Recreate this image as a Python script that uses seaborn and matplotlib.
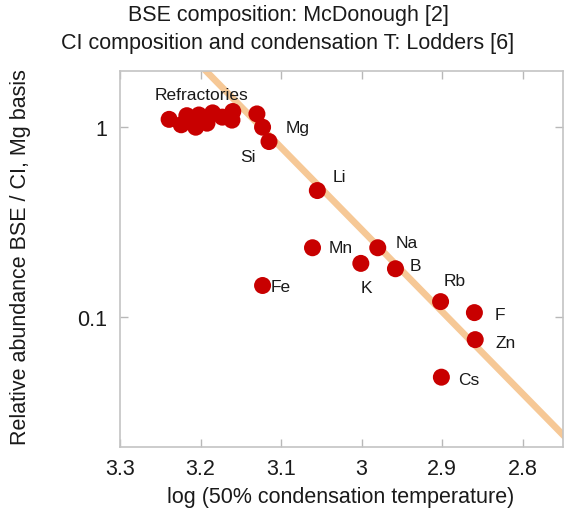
import numpy as np
import pandas as pd
import matplotlib
matplotlib.use("Agg")
import matplotlib.pyplot as plt
import seaborn as sns
from matplotlib.ticker import FixedLocator, NullLocator, FixedFormatter

# log10 of 50% condensation temperature and BSE/CI abundance (Mg normalised)
refractory_x = [3.239, 3.224, 3.217, 3.206, 3.202, 3.192, 3.185, 3.173, 3.161, 3.160]
refractory_y = [1.10, 1.03, 1.15, 1.00, 1.16, 1.05, 1.19, 1.13, 1.09, 1.21]

elements = ["Mg", "Mg2", "Si", "Li", "Mn", "Na", "K", "B", "Fe", "Rb", "F", "Zn", "Cs"]
element_x = [3.130, 3.123, 3.115, 3.055, 3.061, 2.980, 3.001, 2.958, 3.123, 2.902, 2.860, 2.859, 2.901]
element_y = [1.175, 1.00, 0.84, 0.463, 0.231, 0.231, 0.191, 0.179, 0.146, 0.120, 0.105, 0.0756, 0.0479]

# trend line through the volatile elements
trend_x = [3.23, 2.74]
trend_y = [2.86, 0.0215]

x_ticks = [3.3, 3.2, 3.1, 3.0, 2.9, 2.8]
x_tick_labels = ["3.3", "3.2", "3.1", "3", "2.9", "2.8"]
y_ticks = [1, 0.1]
y_tick_labels = ["1", "0.1"]

# label text, index of the point it names, and offset (points)
labels = [("Mg", 1, 25, 0), ("Si", 2, -15, -11), ("Li", 3, 16, 10),
          ("Mn", 4, 20, 0), ("Na", 5, 21, 4), ("K", 6, 4, -17),
          ("B", 7, 14, 2), ("Fe", 8, 13, -1), ("Rb", 9, 10, 15),
          ("F", 10, 18, -1), ("Zn", 11, 22, -2), ("Cs", 12, 20, -2)]

sns.set_theme(style="white")
plt.rcParams["font.family"] = ["Liberation Sans", "DejaVu Sans"]

pts = pd.DataFrame({
    "x": refractory_x + element_x,
    "y": refractory_y + element_y,
})
trend = pd.DataFrame({"x": trend_x, "y": trend_y})

fig = plt.figure(figsize=(5.64, 5.10), dpi=100)
ax = fig.add_axes([120 / 564, 1 - 448 / 510, 443 / 564, 376 / 510])

sns.lineplot(data=trend, x="x", y="y", ax=ax, color="#F6C896", linewidth=4.8,
             sort=False, zorder=1)
sns.scatterplot(data=pts, x="x", y="y", ax=ax, color="#C80000", s=150,
                edgecolor="none", linewidth=0, zorder=3)

ax.set_yscale("log")
ax.set_xlim(3.3, 2.75)
ax.set_ylim(0.0205, 1.98)

ax.xaxis.set_major_locator(FixedLocator(x_ticks))
ax.xaxis.set_major_formatter(FixedFormatter(x_tick_labels))
ax.yaxis.set_major_locator(FixedLocator(y_ticks))
ax.yaxis.set_major_formatter(FixedFormatter(y_tick_labels))
ax.yaxis.set_minor_locator(NullLocator())
ax.xaxis.set_minor_locator(NullLocator())

ax.tick_params(axis="both", which="major", direction="in", length=6, width=1.0,
               color="#b8b8b8", labelsize=15.5, labelcolor="#1a1a1a",
               top=True, right=True, bottom=True, left=True)
ax.tick_params(axis="x", pad=8)
ax.tick_params(axis="y", pad=9)
for side in ["left", "right", "top", "bottom"]:
    ax.spines[side].set_color("#c4c4c4")
    ax.spines[side].set_linewidth(1.2)

ax.set_xlabel("")
ax.set_ylabel("")

for name, idx, dx, dy in labels:
    ax.annotate(name, (element_x[idx], element_y[idx]), xytext=(dx, dy),
                textcoords="offset points", ha="center", va="center",
                fontsize=12.5, color="#1a1a1a")
ax.annotate("Refractories", (3.202, 1.16), xytext=(2, 14.5),
            textcoords="offset points", ha="center", va="center",
            fontsize=12.5, color="#1a1a1a")

fig.text(288 / 564, 1 - 16 / 510, "BSE composition: McDonough [2]",
         ha="center", va="center", fontsize=15.5, color="#1a1a1a")
fig.text(288 / 564, 1 - 43 / 510, "CI composition and condensation T: Lodders [6]",
         ha="center", va="center", fontsize=15.5, color="#1a1a1a")
fig.text(341 / 564, 1 - 498 / 510, "log (50% condensation temperature)",
         ha="center", va="center", fontsize=15.5, color="#1a1a1a")
fig.text(21 / 564, 1 - 257 / 510, "Relative abundance BSE / CI, Mg basis",
         ha="center", va="center", rotation=90, fontsize=15.5, color="#1a1a1a")

fig.savefig("out.png", dpi=100, facecolor="white")
